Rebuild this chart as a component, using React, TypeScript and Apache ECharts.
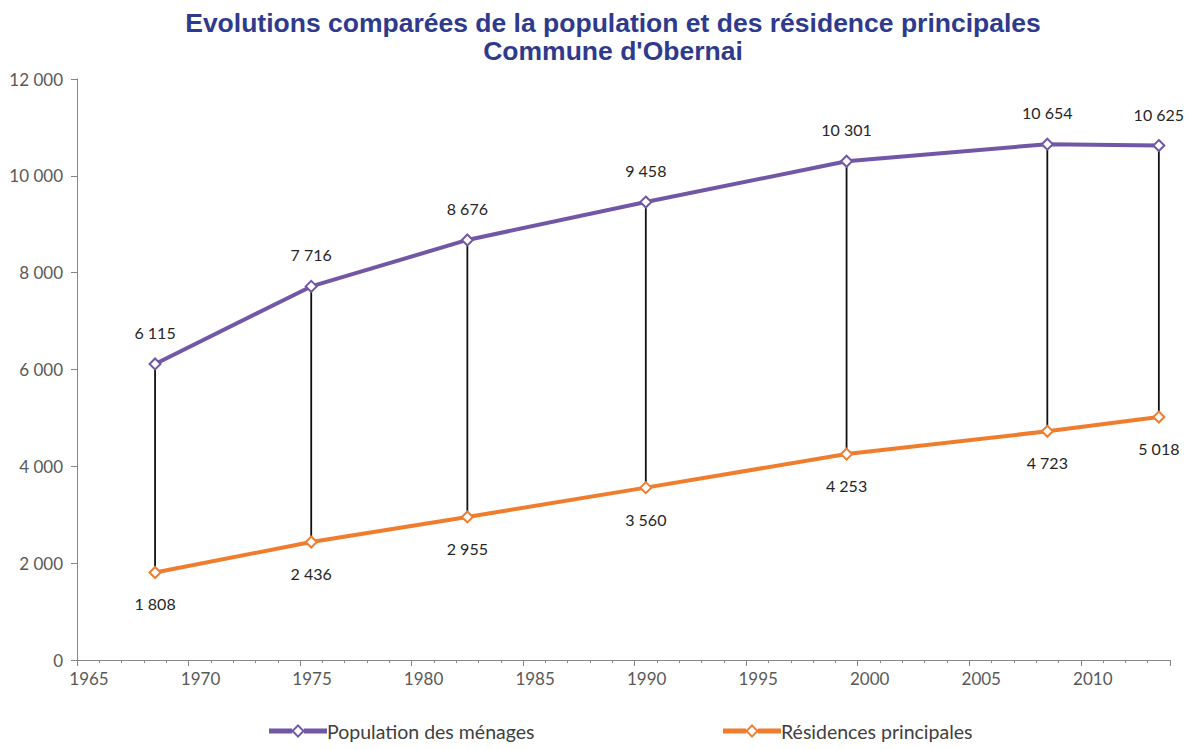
import React, { useEffect, useRef } from "react";
import * as echarts from "echarts";

const years = [1968, 1975, 1982, 1990, 1999, 2008, 2013];
const population = [6115, 7716, 8676, 9458, 10301, 10654, 10625];
const residences = [1808, 2436, 2955, 3560, 4253, 4723, 5018];
const seriesNames = ["Population des ménages", "Résidences principales"];
const seriesColors = ["#7157A6", "#F07D2E"];
const titleLines = [
  "Evolutions comparées de la population et des résidence principales",
  "Commune d'Obernai",
];

const fmt = (v: number) => {
  const s = String(Math.round(v));
  return s.replace(/\B(?=(\d{3})+(?!\d))/g, " ");
};

const FONT = "Lato, 'Open Sans', sans-serif";
const LEGEND_ICON =
  "path://M0,4.5L24,4.5L24,9.5L0,9.5Z M36,4.5L60,4.5L60,9.5L36,9.5Z M30,0L37,7L30,14L23,7Z M30,2.8L25.8,7L30,11.2L34.2,7Z";

export default function App() {
  const ref = useRef<HTMLDivElement>(null);
  useEffect(() => {
    document.body.style.margin = "0";
    if (!ref.current) return;
    const chart = echarts.init(ref.current, undefined, { renderer: "svg" });
    const hiLo = years.map((y, i) => [y, residences[i], population[i]]);
    const legendItem = (i: number, left: number) => ({
      data: [{ name: seriesNames[i], icon: LEGEND_ICON }],
      left,
      top: 721,
      padding: 0,
      itemWidth: 58,
      itemHeight: 14,
      itemGap: 4,
      symbolKeepAspect: false,
      itemStyle: { color: seriesColors[i], borderWidth: 0 },
      textStyle: {
        fontFamily: FONT,
        fontSize: 19.5,
        lineHeight: 20,
        color: "#404040",
        padding: [0, 0, 0, -5],
      },
    });
    chart.setOption({
      animation: false,
      backgroundColor: "#ffffff",
      title: {
        text: titleLines.join("\n"),
        left: 608,
        textAlign: "center",
        top: 4,
        textStyle: {
          fontFamily: "'Liberation Sans', Arial, sans-serif",
          fontWeight: "bold",
          fontSize: 26.5,
          lineHeight: 28,
          color: "#2F3A8D",
        },
      },
      grid: { left: 77, right: 19, top: 79, bottom: 89, containLabel: false },
      legend: [legendItem(0, 269), legendItem(1, 723)],
      xAxis: {
        type: "value",
        min: 1964.5,
        max: 2013.5,
        interval: 5,
        splitLine: { show: false },
        axisLine: { show: true, onZero: false, lineStyle: { color: "#868686", width: 1 } },
        axisTick: { show: true, length: 6, lineStyle: { color: "#868686" } },
        minorTick: { show: true, splitNumber: 5, length: 3, lineStyle: { color: "#868686" } },
        axisLabel: {
          margin: 10,
          formatter: (v: number) => {
            const y = Math.round(v + 0.5);
            if (y > 2010) return "";
            return "{a|" + y + "}";
          },
          rich: {
            a: {
              fontFamily: FONT,
              fontSize: 17,
              color: "#595959",
              padding: [0, 0, 0, 24],
            },
          },
        },
      },
      yAxis: {
        type: "value",
        min: 0,
        max: 12000,
        interval: 2000,
        splitLine: { show: false },
        axisLine: { show: true, lineStyle: { color: "#868686", width: 1 } },
        axisTick: { show: true, length: 6, lineStyle: { color: "#868686" } },
        axisLabel: {
          margin: 14,
          fontFamily: FONT,
          fontSize: 17,
          color: "#595959",
          formatter: (v: number) => fmt(v),
        },
      },
      series: [
        {
          type: "custom",
          name: "hilo",
          z: 1,
          silent: true,
          data: hiLo,
          encode: { x: 0, y: [1, 2] },
          renderItem: (params: any, api: any) => {
            const x = api.value(0);
            const p1 = api.coord([x, api.value(1)]);
            const p2 = api.coord([x, api.value(2)]);
            return {
              type: "line",
              shape: { x1: p1[0], y1: p1[1], x2: p2[0], y2: p2[1] },
              style: { stroke: "#111111", lineWidth: 1.8 },
            };
          },
        },
        ...[population, residences].map((vals, i) => ({
          type: "line",
          name: seriesNames[i],
          z: 3,
          data: years.map((y, k) => [y, vals[k]]),
          lineStyle: { color: seriesColors[i], width: 4 },
          itemStyle: { color: "#ffffff", borderColor: seriesColors[i], borderWidth: 2 },
          color: seriesColors[i],
          symbol: "diamond",
          symbolSize: 11,
          showAllSymbol: true,
          label: {
            show: true,
            position: i === 0 ? "top" : "bottom",
            distance: 17,
            fontFamily: FONT,
            fontSize: 16,
            color: "#262626",
            formatter: (p: any) => fmt(p.value[1]),
          },
        })),
      ],
    });
    return () => chart.dispose();
  }, []);
  return (
    <div
      ref={ref}
      style={{ width: 1189, height: 749, overflow: "hidden", position: "absolute", left: 0, top: 0 }}
    />
  );
}
